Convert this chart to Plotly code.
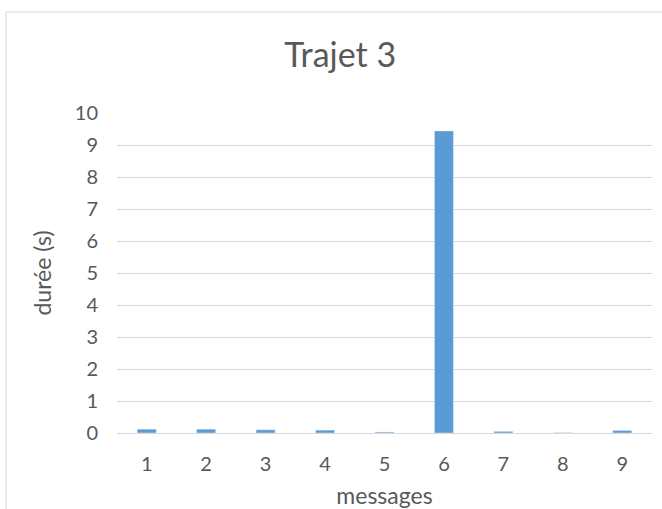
import plotly.graph_objects as go

categories = ["1", "2", "3", "4", "5", "6", "7", "8", "9"]
durees = [0.12, 0.12, 0.10, 0.09, 0.03, 9.44, 0.05, 0.01, 0.08]

fig = go.Figure()
fig.add_trace(go.Bar(
    x=categories,
    y=durees,
    marker=dict(color="#5B9BD5"),
    width=0.32,
))

fig.update_layout(
    width=662, height=509,
    margin=dict(l=117, r=10, t=113, b=76),
    paper_bgcolor="white",
    plot_bgcolor="white",
    font=dict(family="Lato, Open Sans, sans-serif", color="#595959", size=20),
    title=dict(text="Trajet 3", xref="container", x=0.514, xanchor="center",
               yref="container", y=1 - 55 / 509, yanchor="middle",
               font=dict(size=34, color="#595959")),
    showlegend=False,
    xaxis=dict(
        title=dict(text="messages", font=dict(size=23), standoff=15),
        showline=True, linecolor="#d9d9d9", linewidth=1, automargin=False,
        ticks="", tickfont=dict(size=20), ticklabelstandoff=13,
    ),
    yaxis=dict(
        title=dict(text="durée (s)", font=dict(size=23), standoff=16),
        range=[0, 10], dtick=1, automargin=False,
        showgrid=True, gridcolor="#d9d9d9", gridwidth=1,
        zeroline=False, ticks="", tickfont=dict(size=20), ticklabelstandoff=18,
    ),
    shapes=[dict(type="rect", xref="paper", yref="paper",
                 x0=(6 - 117) / 535, x1=1.2, y0=-0.4, y1=1 + (113 - 12) / 320,
                 line=dict(color="#d9d9d9", width=1), fillcolor="rgba(0,0,0,0)")],
)

fig.write_html("out.html", config={"displayModeBar": False},
               post_script="document.body.style.margin='0';")
